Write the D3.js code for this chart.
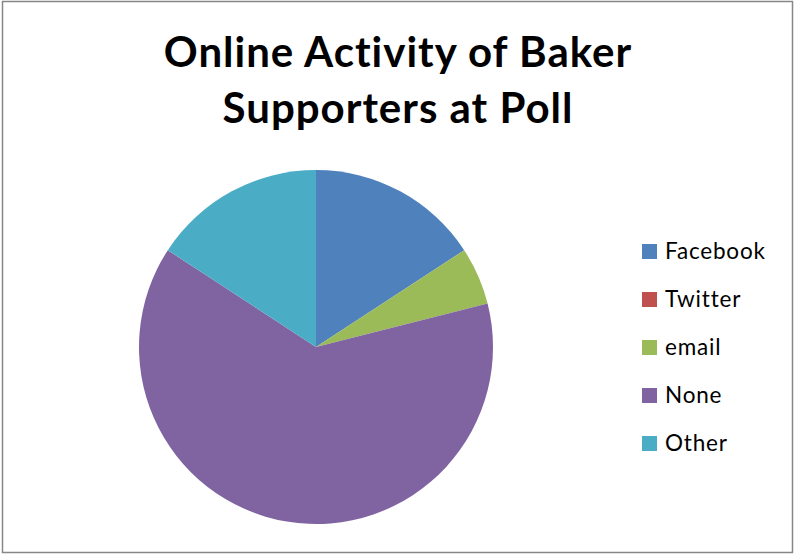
<!DOCTYPE html>
<html>
<head>
<meta charset="utf-8">
<script src="https://cdn.jsdelivr.net/npm/d3@7"></script>
<style>
  html, body { margin: 0; padding: 0; background: #fff; }
  svg { display: block; }
</style>
</head>
<body>
<svg id="chart" width="796" height="554"></svg>
<script>
// Poll responses: online activity of Baker supporters
const categories = ["Facebook", "Twitter", "email", "None", "Other"];
const counts = [3, 0, 1, 12, 3];
const colors = ["#4F81BD", "#C0504D", "#9BBB59", "#8064A2", "#4BACC6"];
const titleLines = ["Online Activity of Baker", "Supporters at Poll"];

const svg = d3.select("#chart");
const font = "Lato, 'Open Sans', sans-serif";

// chart frame
svg.append("rect")
  .attr("x", 2.5).attr("y", 1.5)
  .attr("width", 790).attr("height", 551)
  .attr("fill", "#fff")
  .attr("stroke", "#878787")
  .attr("stroke-width", 1.5);

// title
const title = svg.append("g").attr("font-family", font).attr("font-weight", 700)
  .attr("font-size", 42).attr("letter-spacing", 1)
  .attr("fill", "#000").attr("text-anchor", "middle");
title.selectAll("text").data(titleLines).join("text")
  .attr("x", 398)
  .attr("y", (d, i) => 67 + i * 56)
  .text(d => d);

// pie, starting at 12 o'clock and running clockwise
const cx = 316, cy = 347, r = 177;
const pie = d3.pie().sort(null).value(d => d.value);
const arc = d3.arc().innerRadius(0).outerRadius(r);
const data = categories.map((c, i) => ({ name: c, value: counts[i], color: colors[i] }));

svg.append("g").attr("transform", `translate(${cx},${cy})`)
  .selectAll("path").data(pie(data).filter(d => d.data.value > 0)).join("path")
  .attr("d", arc)
  .attr("fill", d => d.data.color);

// legend
const legend = svg.append("g").attr("font-family", font).attr("font-size", 22.5)
  .attr("letter-spacing", 0.8).attr("fill", "#000");
const item = legend.selectAll("g").data(data).join("g")
  .attr("transform", (d, i) => `translate(642,${251.5 + i * 48})`);
item.append("rect")
  .attr("x", 0).attr("y", -7.5).attr("width", 15).attr("height", 15)
  .attr("fill", d => d.color);
item.append("text")
  .attr("x", 23).attr("y", 7.5)
  .text(d => d.name);
</script>
</body>
</html>
